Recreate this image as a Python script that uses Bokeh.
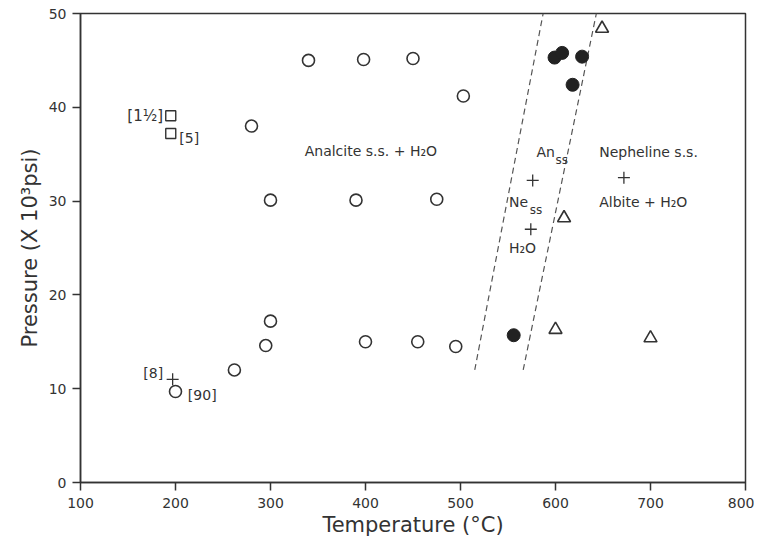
from bokeh.plotting import figure
from bokeh.models import Range1d, Label
from bokeh.embed import file_html
from bokeh.resources import INLINE

# ---- data (Temperature °C, Pressure x10^3 psi) ----
open_t = [200, 262, 295, 300, 400, 455, 495, 280, 300, 390, 475, 340, 398, 450, 503]
open_p = [9.7, 12.0, 14.6, 17.2, 15.0, 15.0, 14.5, 38.0, 30.1, 30.1, 30.2, 45.0, 45.1, 45.2, 41.2]

filled_t = [556, 599, 607, 628, 618]
filled_p = [15.7, 45.3, 45.8, 45.4, 42.4]

tri_t = [649, 609, 600, 700]
tri_p = [48.4, 28.2, 16.3, 15.4]

sq_t = [195, 195]
sq_p = [39.1, 37.2]

plus_t = [197, 576, 574, 672]
plus_p = [11.0, 32.2, 27.0, 32.5]

left_bound_t = [515, 587]
left_bound_p = [12, 50]
right_bound_t = [566, 643]
right_bound_p = [12, 50]

x_ticks = [100, 200, 300, 400, 500, 600, 700, 800]
y_ticks = [0, 10, 20, 30, 40, 50]

INK = "#333333"
FONT = "DejaVu Sans"

p = figure(width=754, height=539, output_backend="svg", toolbar_location=None,
           x_range=Range1d(100, 800), y_range=Range1d(0, 50),
           min_border_left=80, min_border_right=9, min_border_top=13, min_border_bottom=50)
p.grid.visible = False
p.outline_line_color = INK
p.outline_line_width = 1.5
p.background_fill_color = "white"
p.border_fill_color = "white"

for ax in (p.xaxis[0], p.yaxis[0]):
    ax.axis_line_color = INK
    ax.axis_line_width = 1.5
    ax.major_tick_line_color = INK
    ax.major_tick_line_width = 1.5
    ax.major_tick_out = 8
    ax.major_tick_in = 0
    ax.minor_tick_line_color = None
    ax.major_label_text_font = FONT
    ax.major_label_text_font_size = "14px"
    ax.major_label_text_color = INK
    ax.axis_label_text_font = FONT
    ax.axis_label_text_font_size = "21px"
    ax.axis_label_text_font_style = "normal"
    ax.axis_label_text_color = INK

p.xaxis.ticker = x_ticks
p.yaxis.ticker = y_ticks
p.xaxis.axis_label = "Temperature (°C)"
p.yaxis.axis_label = "Pressure (X 10³psi)"
p.xaxis.major_label_standoff = 7
p.yaxis.major_label_standoff = 6
p.xaxis.axis_label_standoff = 2
p.yaxis.axis_label_standoff = 4

# boundaries
p.line(left_bound_t, left_bound_p, line_color="#555555", line_width=1.2, line_dash="6 4")
p.line(right_bound_t, right_bound_p, line_color="#555555", line_width=1.2, line_dash="6 4")

# markers
p.scatter(open_t, open_p, marker="circle", size=12, fill_color=None, line_color=INK, line_width=1.6)
p.scatter(filled_t, filled_p, marker="circle", size=13, fill_color="#222222", line_color="#222222")
p.scatter(tri_t, tri_p, marker="triangle", size=13, fill_color=None, line_color=INK, line_width=1.6)
p.scatter(sq_t, sq_p, marker="square", size=10, fill_color=None, line_color=INK, line_width=1.4)
p.scatter(plus_t, plus_p, marker="cross", size=12, line_color=INK, line_width=1.3)

def lab(x, y, text, size="14px", align="left", baseline="middle"):
    p.add_layout(Label(x=x, y=y, text=text, text_font=FONT, text_font_size=size,
                       text_color=INK, text_align=align, text_baseline=baseline))

lab(336, 35.3, "Analcite  s.s.  +  H₂O")
lab(580, 35.2, "An")
lab(600, 34.4, "ss", size="12px")
lab(551, 29.9, "Ne")
lab(573, 29.1, "ss", size="12px")
lab(551, 25.0, "H₂O")
lab(646, 35.2, "Nepheline   s.s.")
lab(646, 29.9, "Albite  +  H₂O")
lab(187, 39.1, "[1½]", size="15px", align="right")
lab(204, 36.7, "[5]")
lab(187, 11.7, "[8]", align="right")
lab(213, 9.3, "[90]")

open("out.html", "w").write(file_html(p, INLINE))
